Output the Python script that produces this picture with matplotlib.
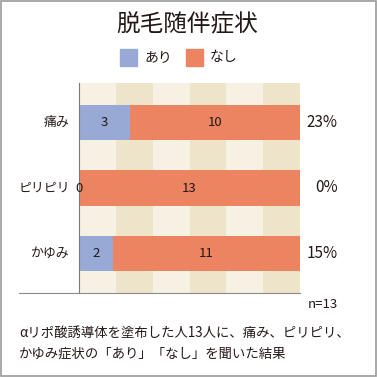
import matplotlib.pyplot as plt
from matplotlib.lines import Line2D
from matplotlib.patches import Rectangle

plt.rcParams['font.family'] = ['Noto Sans CJK JP', 'DejaVu Sans']

# data
symptoms = ["痛み", "ピリピリ", "かゆみ"]
ari = [3, 0, 2]
nashi = [10, 13, 11]
n_total = 13
title = "脱毛随伴症状"
legend_labels = ["あり", "なし"]
caption = ["αリポ酸誘導体を塗布した人13人に、痛み、ピリピリ、",
           "かゆみ症状の「あり」「なし」を聞いた結果"]

BLUE = "#97a9d4"
ORANGE = "#ec8461"
TEXT = "#231815"
STRIPE_LIGHT = "#f7f1e3"
STRIPE_DARK = "#ede4c9"

W = 377.0
fig = plt.figure(figsize=(3.77, 3.77), dpi=100)

def fx(px):
    return px / W

def fy(py):
    return 1 - py / W

ax = fig.add_axes([fx(79), fy(293), fx(300) - fx(79), fy(83) - fy(293)])
ax.set_xlim(0, n_total)
ax.set_ylim(2.6, -0.6)

# background stripes
for i in range(6):
    ax.axvspan(i * n_total / 6, (i + 1) * n_total / 6,
               color=STRIPE_LIGHT if i % 2 == 0 else STRIPE_DARK, lw=0, zorder=0)

ypos = list(range(len(symptoms)))
ax.barh(ypos, ari, height=0.54, color=BLUE, zorder=2)
ax.barh(ypos, nashi, left=ari, height=0.54, color=ORANGE, zorder=2)

for y, name, a, b in zip(ypos, symptoms, ari, nashi):
    ax.text(a / 2, y, str(a), ha="center", va="center", fontsize=9.5, color=TEXT, zorder=3)
    ax.text(a + b / 2, y, str(b), ha="center", va="center", fontsize=9.5, color=TEXT, zorder=3)
    ax.text(n_total + 2.2, y, f"{round(a / n_total * 100)}%", ha="right", va="center",
            fontsize=11, color=TEXT, clip_on=False)
    ax.text(-0.55, y, name, ha="right", va="center", fontsize=9.3,
            color=TEXT, clip_on=False)

for s in ["top", "right", "bottom"]:
    ax.spines[s].set_visible(False)
ax.spines["left"].set_color("#7a7a7a")
ax.spines["left"].set_linewidth(0.8)
ax.set_xticks([])
ax.set_yticks([])

# bottom rule extending left
fig.add_artist(Line2D([fx(19), fx(300)], [fy(293), fy(293)], color="#8c8c8c", lw=0.8))

# title and legend
fig.text(fx(187), fy(25), title, ha="center", va="center", fontsize=17, color=TEXT)
fig.add_artist(Rectangle((fx(120), fy(66)), fx(17), fx(17), color=BLUE, transform=fig.transFigure))
fig.text(fx(144), fy(57), legend_labels[0], ha="left", va="center", fontsize=10, color=TEXT)
fig.add_artist(Rectangle((fx(186), fy(66)), fx(17), fx(17), color=ORANGE, transform=fig.transFigure))
fig.text(fx(210), fy(57), legend_labels[1], ha="left", va="center", fontsize=10, color=TEXT)

fig.text(fx(338), fy(305), f"n={n_total}", ha="right", va="center", fontsize=9.5, color=TEXT)
fig.text(fx(19), fy(333), caption[0], ha="left", va="center", fontsize=9.6, color=TEXT)
fig.text(fx(19), fy(354), caption[1], ha="left", va="center", fontsize=9.6, color=TEXT)

# outer border
fig.add_artist(Rectangle((0.0015, 0.0015), 0.997, 0.997, fill=False, ec="#9a9a9a", lw=1.2,
                         transform=fig.transFigure))

fig.savefig("out.png", dpi=100)
